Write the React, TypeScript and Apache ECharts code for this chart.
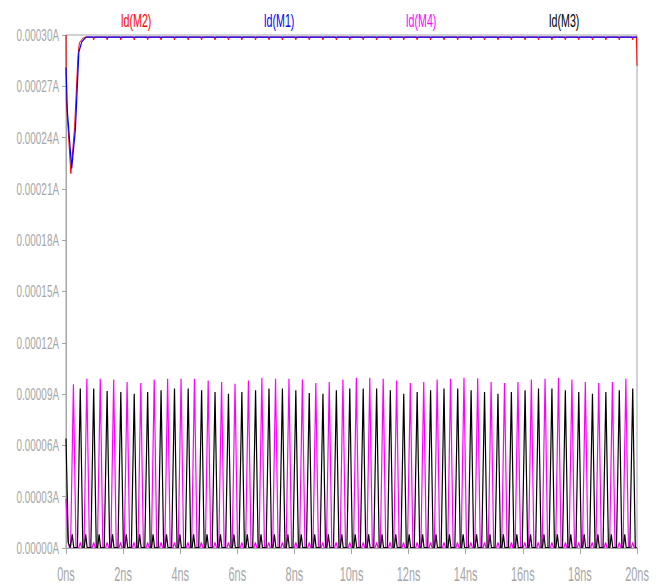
import React, { useEffect, useRef } from "react";
import * as echarts from "echarts";

const seriesNames = ["Id(M2)", "Id(M1)", "Id(M4)", "Id(M3)"];
const seriesColors = ["#ff0000", "#0000ff", "#ff00ff", "#000000"];

// axis tick values
const xTickValues = [0, 2, 4, 6, 8, 10, 12, 14, 16, 18, 20];
const yTickValues = [0, 0.00003, 0.00006, 0.00009, 0.00012, 0.00015, 0.00018, 0.00021, 0.00024, 0.00027, 0.0003];

// Id(M2): start-up transient [ns, A], then flat level with small dips at Id(M3) peaks
const m2Transient: [number, number][] = [
  [0, 3.0e-4], [0.01, 2.62e-4], [0.17, 2.19e-4], [0.3, 2.46e-4],
  [0.42, 2.88e-4], [0.47, 2.955e-4], [0.6, 2.982e-4], [0.7, 2.988e-4],
];
const m2Level = 2.988e-4;
const m2DipLevel = 2.972e-4;
const m2End: [number, number][] = [[19.98, 2.988e-4], [20, 2.82e-4]];

// Id(M1)
const m1Values: [number, number][] = [
  [0, 2.81e-4], [0.05, 2.55e-4], [0.2, 2.22e-4], [0.33, 2.45e-4],
  [0.45, 2.9e-4], [0.55, 2.96e-4], [0.7, 2.988e-4], [20, 2.988e-4],
];

// Id(M4): peak times [ns] and peak currents [A]
const m4Start: [number, number][] = [[0, 2.9e-5], [0.07, 0.4e-5], [0.12, 0.03e-5]];
const m4PeakTimes = [
  0.26, 0.73, 1.2, 1.67, 2.14, 2.62, 3.09, 3.56, 4.03, 4.5, 4.98, 5.45, 5.92, 6.39,
  6.86, 7.34, 7.81, 8.28, 8.75, 9.22, 9.7, 10.17, 10.64, 11.11, 11.58, 12.06, 12.53,
  13.0, 13.47, 13.94, 14.42, 14.89, 15.36, 15.83, 16.3, 16.78, 17.25, 17.72, 18.19,
  18.66, 19.14, 19.61,
];
const m4PeakValues = [
  9.57e-5, 9.9e-5, 9.9e-5, 9.85e-5, 9.7e-5, 9.65e-5, 9.85e-5, 9.9e-5, 9.9e-5, 9.9e-5,
  9.8e-5, 9.7e-5, 9.61e-5, 9.8e-5, 9.96e-5, 9.9e-5, 9.9e-5, 9.85e-5, 9.65e-5, 9.7e-5,
  9.85e-5, 9.96e-5, 9.96e-5, 9.9e-5, 9.8e-5, 9.65e-5, 9.7e-5, 9.85e-5, 9.9e-5, 9.96e-5,
  9.93e-5, 9.7e-5, 9.65e-5, 9.7e-5, 9.85e-5, 9.9e-5, 9.96e-5, 9.85e-5, 9.7e-5, 9.65e-5,
  9.7e-5, 9.9e-5,
];
const m4BaseLevel = 0.03e-5;
const m4BumpLevel = 0.32e-5;
const m4BumpDelay = 0.24;

// Id(M3)
const m3Start: [number, number][] = [[0, 6.4e-5], [0.08, 0.3e-5], [0.15, 0.03e-5], [0.22, 0.8e-5], [0.27, 0.03e-5]];
const m3PeakTimes = [
  0.5, 0.97, 1.44, 1.92, 2.39, 2.86, 3.33, 3.8, 4.28, 4.75, 5.22, 5.69, 6.16, 6.64,
  7.11, 7.58, 8.05, 8.52, 9.0, 9.47, 9.94, 10.41, 10.88, 11.36, 11.83, 12.3, 12.77,
  13.24, 13.72, 14.19, 14.66, 15.13, 15.6, 16.08, 16.55, 17.02, 17.49, 17.96, 18.44,
  18.91, 19.38, 19.85,
];
const m3PeakValues = [
  9.32e-5, 9.32e-5, 9.18e-5, 9.12e-5, 9.02e-5, 9.12e-5, 9.22e-5, 9.32e-5, 9.32e-5, 9.22e-5,
  9.12e-5, 9.02e-5, 9.12e-5, 9.22e-5, 9.32e-5, 9.32e-5, 9.22e-5, 9.06e-5, 9.02e-5, 9.22e-5,
  9.32e-5, 9.32e-5, 9.32e-5, 9.22e-5, 9.02e-5, 9.12e-5, 9.22e-5, 9.32e-5, 9.32e-5, 9.22e-5,
  9.12e-5, 9.02e-5, 9.12e-5, 9.22e-5, 9.32e-5, 9.32e-5, 9.22e-5, 9.12e-5, 9.02e-5, 9.12e-5,
  9.22e-5, 9.32e-5,
];
const m3BaseLevel = 0.03e-5;
const m3BumpLevel = 0.8e-5;
const m3BumpDelay = 0.19;

// spike shape: rise/fall widths (ns) and bump half width
const spikeRise = 0.1;
const spikeFall = 0.09;
const bumpHalf = 0.05;
const tEnd = 20;

function buildPulses(
  start: [number, number][],
  times: number[],
  peaks: number[],
  base: number,
  bumpDelay: number,
  bump: number
): [number, number][] {
  const pts: [number, number][] = [...start];
  times.forEach((t, i) => {
    pts.push([t - spikeRise, base]);
    pts.push([t, peaks[i]]);
    pts.push([t + spikeFall, base]);
    pts.push([t + bumpDelay - bumpHalf, base]);
    pts.push([t + bumpDelay, bump]);
    pts.push([t + bumpDelay + bumpHalf, base]);
  });
  const out = pts.filter((p) => p[0] <= tEnd);
  out.push([tEnd, base]);
  return out;
}

function buildM2(): [number, number][] {
  const pts: [number, number][] = [...m2Transient];
  m3PeakTimes.forEach((t) => {
    if (t < 0.75) return;
    pts.push([t - 0.03, m2Level]);
    pts.push([t, m2DipLevel]);
    pts.push([t + 0.03, m2Level]);
  });
  return pts.concat(m2End);
}

const FONT = "'Liberation Sans', Arial, sans-serif";
const AXIS_GRAY = "#a6a6a6";
const lineWidths = [1, 1.2, 1.2, 1.2];

export default function App() {
  const ref = useRef<HTMLDivElement>(null);
  useEffect(() => {
    if (!ref.current) return;
    const chart = echarts.init(ref.current, null, { renderer: "svg" });
    const seriesData = [
      buildM2(),
      m1Values,
      buildPulses(m4Start, m4PeakTimes, m4PeakValues, m4BaseLevel, m4BumpDelay, m4BumpLevel),
      buildPulses(m3Start, m3PeakTimes, m3PeakValues, m3BaseLevel, m3BumpDelay, m3BumpLevel),
    ];
    chart.setOption({
      animation: false,
      backgroundColor: "#ffffff",
      grid: {
        left: 66,
        right: 25,
        top: 35,
        bottom: 37,
        show: true,
        borderColor: AXIS_GRAY,
        borderWidth: 1,
        containLabel: false,
        outerBoundsMode: "none",
      },
      xAxis: {
        type: "value",
        min: 0,
        max: 20,
        interval: 2,
        axisLine: { show: true, lineStyle: { color: AXIS_GRAY } },
        axisTick: { show: true, length: 6, lineStyle: { color: AXIS_GRAY } },
        splitLine: { show: false },
        axisLabel: { show: false },
      },
      yAxis: {
        type: "value",
        min: 0,
        max: 0.0003,
        interval: 0.00003,
        axisLine: { show: true, lineStyle: { color: AXIS_GRAY } },
        axisTick: { show: true, length: 4, lineStyle: { color: AXIS_GRAY } },
        splitLine: { show: false },
        axisLabel: { show: false },
      },
      series: seriesNames.map((n, i) => ({
        name: n,
        type: "line",
        data: seriesData[i],
        showSymbol: false,
        symbol: "none",
        lineStyle: { color: seriesColors[i], width: lineWidths[i] },
        itemStyle: { color: seriesColors[i] },
        z: 2 + i,
      })),
    });

    // condensed tick labels positioned with the chart's own axis scales
    const graphics: any[] = [];
    yTickValues.forEach((v) => {
      const p = chart.convertToPixel({ gridIndex: 0 }, [0, v]) as number[];
      graphics.push({
        type: "text",
        x: p[0] - 7,
        y: p[1] + 0.5,
        scaleX: 0.62,
        silent: true,
        style: {
          text: `${v.toFixed(5)}A`,
          fontSize: 16,
          fontFamily: FONT,
          fill: AXIS_GRAY,
          align: "right",
          verticalAlign: "middle",
        },
      });
    });
    xTickValues.forEach((v) => {
      const p = chart.convertToPixel({ gridIndex: 0 }, [v, 0]) as number[];
      graphics.push({
        type: "text",
        x: p[0],
        y: p[1] + 26,
        scaleX: 0.56,
        silent: true,
        style: {
          text: `${v}ns`,
          fontSize: 19.5,
          fontFamily: FONT,
          fill: AXIS_GRAY,
          align: "center",
          verticalAlign: "middle",
        },
      });
    });
    // legend texts across the top
    const legendCenters = [136, 279, 421, 564];
    seriesNames.forEach((n, i) => {
      graphics.push({
        type: "text",
        x: legendCenters[i],
        y: 21,
        scaleX: 0.59,
        silent: true,
        style: {
          text: n,
          fontSize: 18,
          fontFamily: FONT,
          fill: seriesColors[i],
          align: "center",
          verticalAlign: "middle",
        },
      });
    });
    chart.setOption({ graphic: graphics });
    return () => chart.dispose();
  }, []);
  return (
    <div
      ref={ref}
      style={{ position: "absolute", left: 0, top: 0, width: 662, height: 585 }}
    />
  );
}
